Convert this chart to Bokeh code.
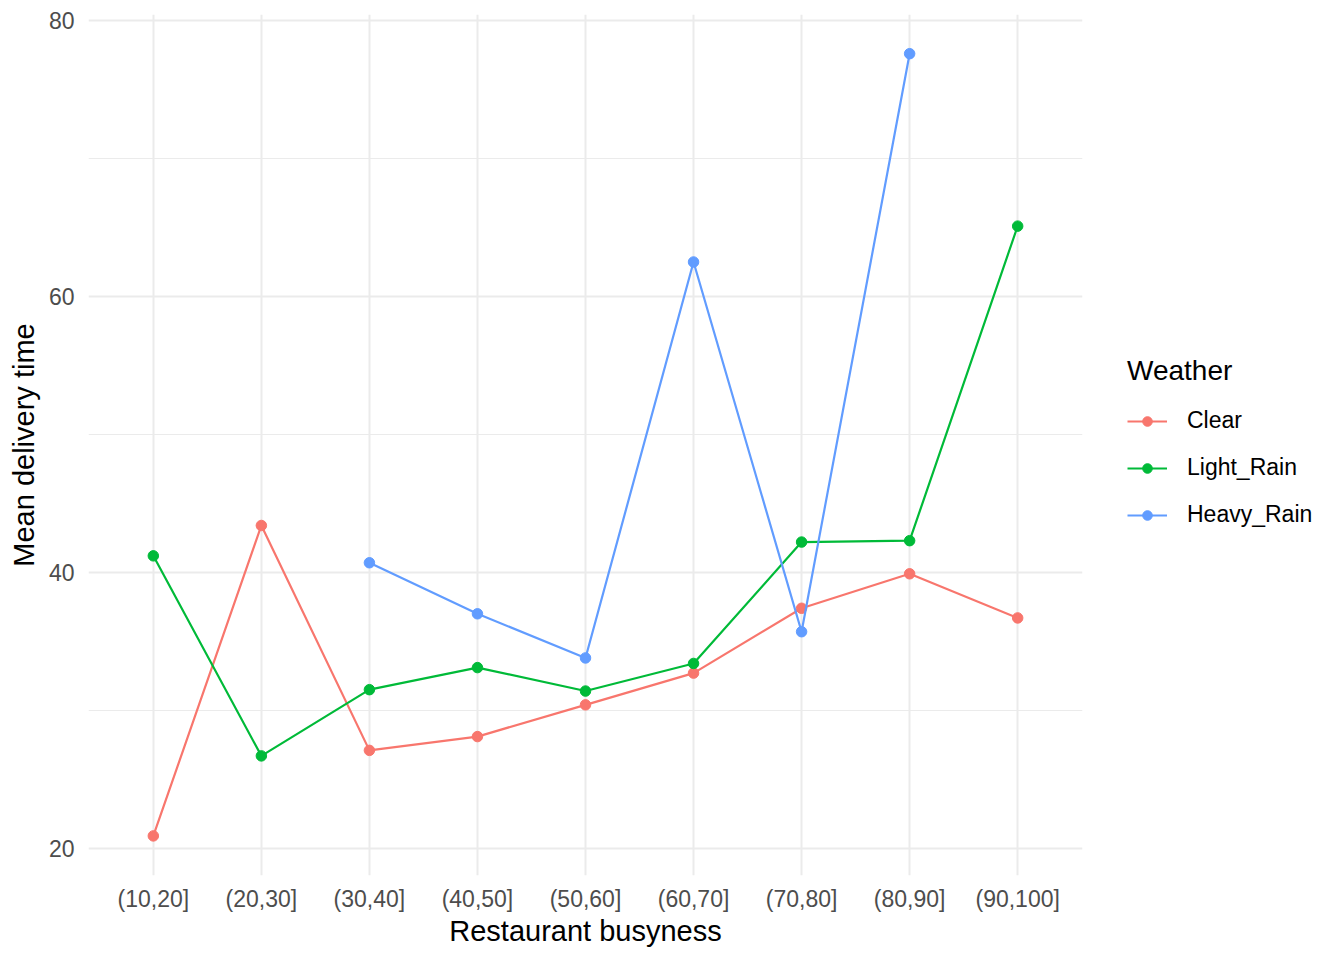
from bokeh.plotting import figure
from bokeh.models import FixedTicker, Legend, LegendItem, Range1d
from bokeh.embed import file_html
from bokeh.resources import INLINE

categories = ["(10,20]", "(20,30]", "(30,40]", "(40,50]", "(50,60]",
              "(60,70]", "(70,80]", "(80,90]", "(90,100]"]

clear_idx = [1, 2, 3, 4, 5, 6, 7, 8, 9]
clear_vals = [20.9, 43.4, 27.1, 28.1, 30.4, 32.7, 37.4, 39.9, 36.7]

light_idx = [1, 2, 3, 4, 5, 6, 7, 8, 9]
light_vals = [41.2, 26.7, 31.5, 33.1, 31.4, 33.4, 42.2, 42.3, 65.1]

heavy_idx = [3, 4, 5, 6, 7, 8]
heavy_vals = [40.7, 37.0, 33.8, 62.5, 35.7, 77.6]

series = [("Clear", clear_idx, clear_vals, "#F8766D"),
          ("Light_Rain", light_idx, light_vals, "#00BA38"),
          ("Heavy_Rain", heavy_idx, heavy_vals, "#619CFF")]

y_ticks = [20, 40, 60, 80]
y_minor = [30, 50, 70]

FONT = "Liberation Sans"

p = figure(frame_width=994, frame_height=861,
           min_border_left=88, min_border_top=14, min_border_bottom=77,
           min_border_right=10,
           output_backend="svg", toolbar_location=None,
           x_range=Range1d(0.4, 9.6), y_range=Range1d(18.03, 80.44))

p.background_fill_color = "white"
p.border_fill_color = "white"
p.outline_line_color = None

items = []
for name, xs, ys, col in series:
    r1 = p.line(xs, ys, line_color=col, line_width=2.2)
    r2 = p.scatter(xs, ys, size=10.5, fill_color=col, line_color=col)
    items.append(LegendItem(label=name, renderers=[r1, r2]))

# axes
p.xaxis.ticker = FixedTicker(ticks=list(range(1, len(categories) + 1)))
p.xaxis.major_label_overrides = {i + 1: c for i, c in enumerate(categories)}
p.yaxis.ticker = FixedTicker(ticks=y_ticks, minor_ticks=y_minor)

for ax in (p.xaxis[0], p.yaxis[0]):
    ax.axis_line_color = None
    ax.major_tick_line_color = None
    ax.minor_tick_line_color = None
    ax.major_tick_out = 0
    ax.major_tick_in = 0
    ax.minor_tick_out = 0
    ax.minor_tick_in = 0
    ax.major_label_text_font = FONT
    ax.major_label_text_font_size = "23px"
    ax.major_label_text_color = "#4D4D4D"
    ax.axis_label_text_font = FONT
    ax.axis_label_text_font_size = "29px"
    ax.axis_label_text_font_style = "normal"
    ax.axis_label_text_color = "black"

p.xaxis.axis_label = "Restaurant busyness"
p.yaxis.axis_label = "Mean delivery time"
p.xaxis.major_label_standoff = 10
p.yaxis.major_label_standoff = 14
p.xaxis.axis_label_standoff = 0
p.yaxis.axis_label_standoff = 6

# grids
p.xgrid.grid_line_color = "#EBEBEB"
p.xgrid.grid_line_width = 2
p.ygrid.grid_line_color = "#EBEBEB"
p.ygrid.grid_line_width = 2
p.ygrid.minor_grid_line_color = "#EBEBEB"
p.ygrid.minor_grid_line_width = 1
p.xgrid.ticker = p.xaxis[0].ticker
p.ygrid.ticker = p.yaxis[0].ticker

legend = Legend(items=items, location=(45, 347), title="Weather",
                orientation="vertical")
legend.title_text_font = FONT
legend.title_text_font_size = "28px"
legend.title_text_font_style = "normal"
legend.title_text_color = "black"
legend.title_standoff = 20
legend.label_text_font = FONT
legend.label_text_font_size = "23px"
legend.label_text_color = "black"
legend.glyph_width = 40
legend.glyph_height = 24
legend.label_standoff = 20
legend.spacing = 20
legend.margin = 0
legend.padding = 10
legend.border_line_color = None
legend.background_fill_color = None
p.add_layout(legend, "right")

open("out.html", "w").write(file_html(p, INLINE))
